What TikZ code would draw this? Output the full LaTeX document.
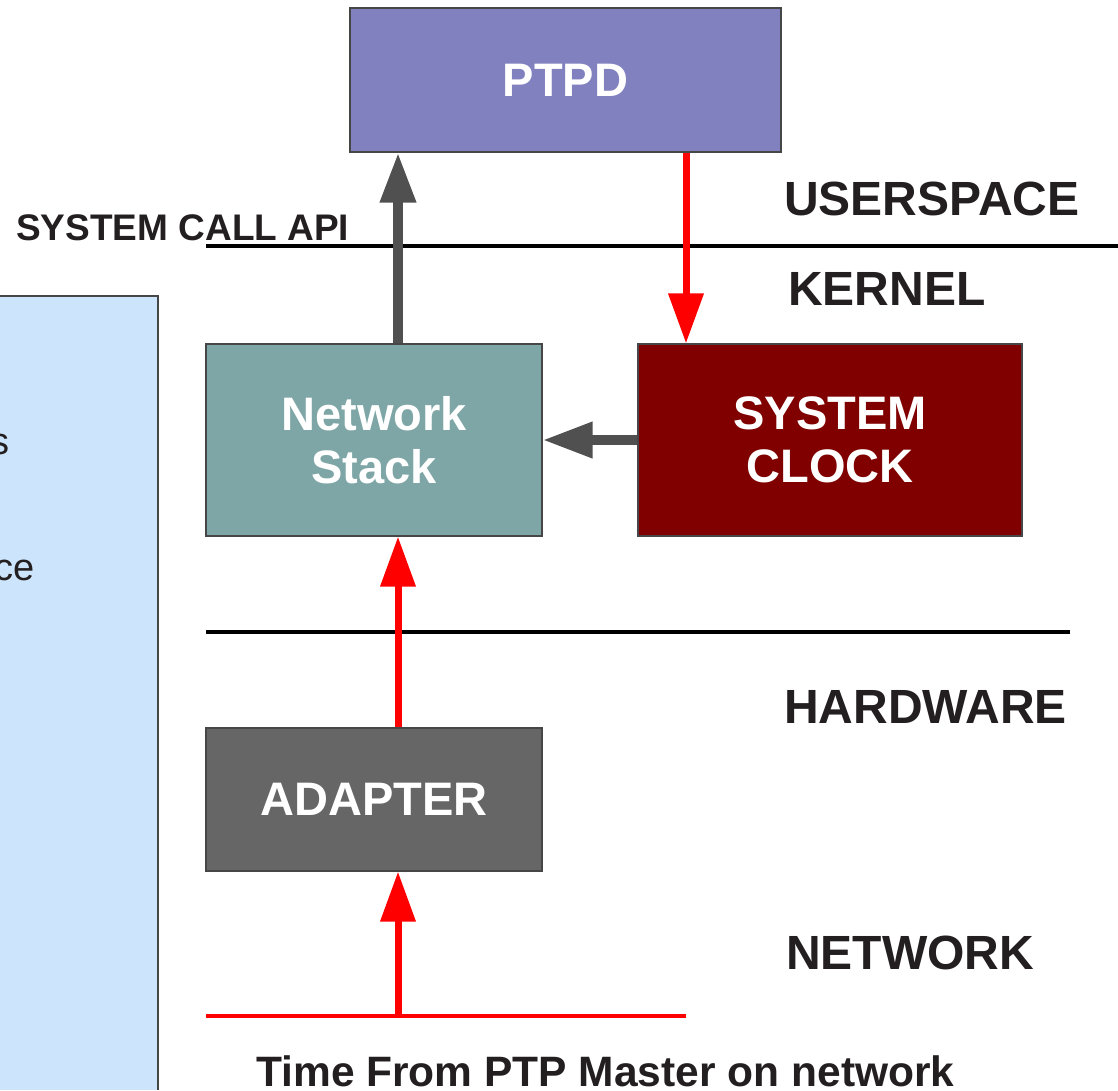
\documentclass[tikz,border=0pt]{standalone}
\usepackage{fontspec}
\setmainfont{Liberation Sans}
\usetikzlibrary{arrows.meta}

\definecolor{ptpdfill}{RGB}{129,129,192}
\definecolor{netfill}{RGB}{127,166,166}
\definecolor{clockfill}{RGB}{128,0,0}
\definecolor{adapterfill}{RGB}{102,102,102}
\definecolor{panelfill}{RGB}{204,229,252}
\definecolor{ink}{RGB}{35,31,32}
\definecolor{shaftgray}{RGB}{80,80,80}
\definecolor{boxedge}{RGB}{70,70,70}

\tikzset{
  block/.style={draw=boxedge, line width=1.2pt, inner sep=0pt,
    text=white, align=center,
    font=\fontsize{47}{53}\selectfont\bfseries},
  layer/.style={inner sep=0pt, text=ink, anchor=west,
    font=\fontsize{48}{54}\selectfont\bfseries},
  grayflow/.style={draw=shaftgray, line width=10pt,
    -{Triangle[width=34pt,length=50pt]}},
  redflow/.style={draw=red, line width=7pt,
    -{Triangle[width=34pt,length=50pt]}},
  divider/.style={draw=black, line width=3.5pt},
}

\begin{document}
\begin{tikzpicture}[x=1pt,y=-1pt]
\useasboundingbox (0,0) rectangle (1118,1090);

% side panel
\fill[panelfill] (0,296) rectangle (158,1090);
\draw[boxedge, line width=1.2pt] (0,296) -- (158,296) -- (158,1090);
\node[inner sep=0pt, anchor=base east, text=ink,
  font=\fontsize{38}{44}\selectfont] (pa) at (10,454) {s};
\node[inner sep=0pt, anchor=base east, text=ink,
  font=\fontsize{38}{44}\selectfont] (pb) at (35,580) {ce};

% layer dividers
\coordinate (ukl) at (206,246);
\coordinate (ukr) at (1118,246);
\coordinate (khl) at (206,632);
\coordinate (khr) at (1070,632);
\draw[divider] (ukl) -- (ukr);
\draw[divider] (khl) -- (khr);

% blocks
\node[block, fill=ptpdfill, minimum width=431pt, minimum height=144pt]
  (ptpd) at (565.5,80) {PTPD};
\node[block, fill=netfill, minimum width=336pt, minimum height=192pt]
  (net) at (374,440) {Network\\Stack};
\node[block, fill=clockfill, minimum width=384pt, minimum height=192pt]
  (clock) at (830,440) {SYSTEM\\CLOCK};
\node[block, fill=adapterfill, minimum width=336pt, minimum height=143pt]
  (adapter) at (374,799.5) {ADAPTER};

% layer labels
\node[layer] (user) at (784,199) {USERSPACE};
\node[layer] (kern) at (788,289) {KERNEL};
\node[layer] (hw) at (784,707) {HARDWARE};
\node[layer] (netw) at (786,953) {NETWORK};
\node[inner sep=0pt, anchor=west, text=ink,
  font=\fontsize{37}{42}\selectfont\bfseries] (api) at (16,228) {SYSTEM CALL API};
\node[inner sep=0pt, anchor=west, text=ink,
  font=\fontsize{42.5}{48}\selectfont\bfseries] (src) at (256,1071)
  {Time From PTP Master on network};

% wire carrying time from the network
\coordinate (wl) at (206,1016);
\coordinate (wr) at (686,1016);
\coordinate (tap) at (398,1016);
\draw[red, line width=4pt] (wl) -- (wr);

% flows
\draw[grayflow] ([xshift=24pt]net.north) -- ([xshift=24pt]net.north |- ptpd.south);
\draw[redflow] ([xshift=120.5pt]ptpd.south) -- ([xshift=120.5pt]ptpd.south |- clock.north);
\draw[grayflow] (clock.west) -- (net.east);
\draw[redflow] ([xshift=24pt]adapter.north) -- ([xshift=24pt]adapter.north |- net.south);
\draw[redflow] (tap) -- (tap |- adapter.south);
\end{tikzpicture}
\end{document}
